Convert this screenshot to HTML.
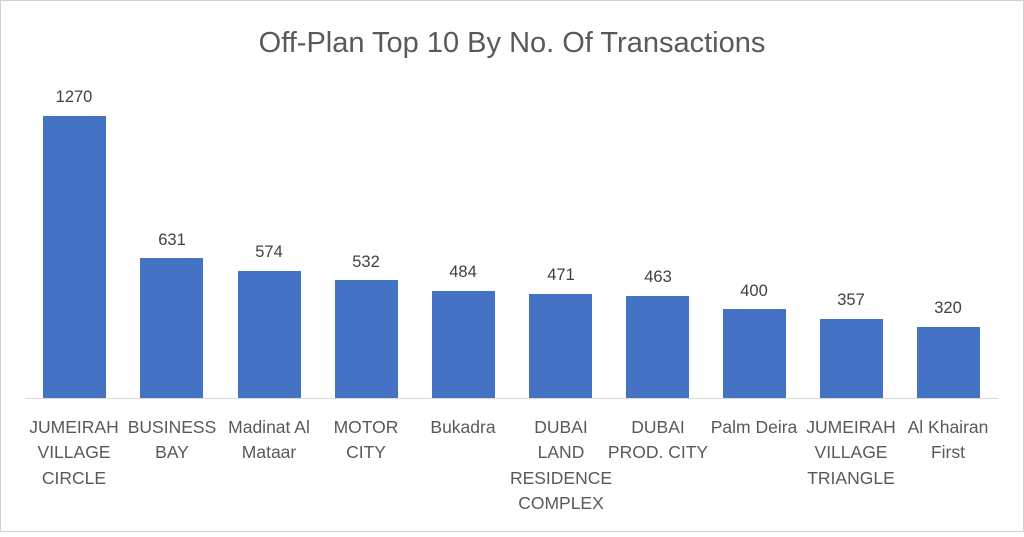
<!DOCTYPE html>
<html><head><meta charset="utf-8"><style>html,body{margin:0;padding:0;background:#fff}</style></head>
<body>
<svg width="1024" height="532" xmlns="http://www.w3.org/2000/svg" font-family="Liberation Sans, sans-serif">
<rect x="0.5" y="0.5" width="1023" height="531" fill="#fff" stroke="#d0d0d0"/>
<text x="512" y="52" font-size="29" fill="#595959" text-anchor="middle">Off-Plan Top 10 By No. Of Transactions</text>
<line x1="25" y1="398.5" x2="998" y2="398.5" stroke="#d9d9d9" stroke-width="1"/>
<g fill="#4472c4">
<rect x="43" y="116" width="63" height="282"/>
<rect x="140" y="258" width="63" height="140"/>
<rect x="238" y="271" width="63" height="127"/>
<rect x="335" y="280" width="63" height="118"/>
<rect x="432" y="291" width="63" height="107"/>
<rect x="529" y="294" width="63" height="104"/>
<rect x="626" y="296" width="63" height="102"/>
<rect x="723" y="309" width="63" height="89"/>
<rect x="820" y="319" width="63" height="79"/>
<rect x="917" y="327" width="63" height="71"/>
</g>
<g font-size="16.5" fill="#404040" text-anchor="middle">
<text x="74" y="102">1270</text>
<text x="172" y="245">631</text>
<text x="269" y="257">574</text>
<text x="366" y="267">532</text>
<text x="463" y="277">484</text>
<text x="561" y="280">471</text>
<text x="658" y="282">463</text>
<text x="754" y="296">400</text>
<text x="851" y="305">357</text>
<text x="948" y="313">320</text>
</g>
<g font-size="17.5" fill="#595959" text-anchor="middle">
<text x="74" y="433">JUMEIRAH</text><text x="74" y="458">VILLAGE</text><text x="74" y="484">CIRCLE</text>
<text x="172" y="433">BUSINESS</text><text x="172" y="458">BAY</text>
<text x="269" y="433">Madinat Al</text><text x="269" y="458">Mataar</text>
<text x="366" y="433">MOTOR</text><text x="366" y="458">CITY</text>
<text x="463" y="433">Bukadra</text>
<text x="561" y="433">DUBAI</text><text x="561" y="458">LAND</text><text x="561" y="484">RESIDENCE</text><text x="561" y="509">COMPLEX</text>
<text x="658" y="433">DUBAI</text><text x="658" y="458">PROD. CITY</text>
<text x="754" y="433">Palm Deira</text>
<text x="851" y="433">JUMEIRAH</text><text x="851" y="458">VILLAGE</text><text x="851" y="484">TRIANGLE</text>
<text x="948" y="433">Al Khairan</text><text x="948" y="458">First</text>
</g>
</svg>
</body></html>
